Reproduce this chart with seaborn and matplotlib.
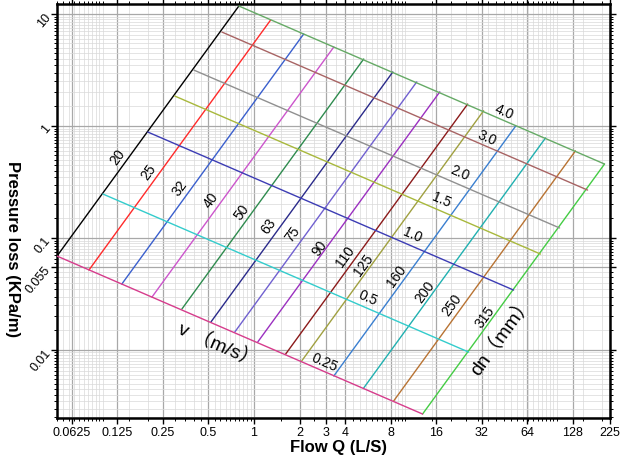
import numpy as np
import pandas as pd
import matplotlib
matplotlib.use("Agg")
import matplotlib.pyplot as plt
import matplotlib.ticker as mticker
import seaborn as sns

# pipe sizes dn (mm): flow / pressure loss at v=0.25 and v=4.0 m/s
dn = [20, 25, 32, 40, 50, 63, 75, 90, 110, 125, 160, 200, 250, 315]
dn_q_low = [0.050, 0.0813, 0.134, 0.212, 0.334, 0.520, 0.748, 1.06, 1.62, 2.07, 3.37, 5.31, 8.38, 13.0]
dn_j_low = [0.069, 0.0518, 0.0388, 0.0297, 0.0232, 0.0178, 0.0145, 0.0118, 0.0092, 0.0080, 0.00586, 0.00458, 0.00351, 0.00268]
dn_q_high = [0.795, 1.29, 2.13, 3.37, 5.31, 8.27, 11.9, 16.9, 25.8, 32.9, 53.6, 84.4, 133, 207]
dn_j_high = [11.8, 8.86, 6.63, 5.08, 3.97, 3.04, 2.48, 2.02, 1.57, 1.37, 1.00, 0.783, 0.600, 0.458]

# velocity lines v (m/s): ends on dn20 and on dn315
vel = [0.25, 0.5, 1.0, 1.5, 2.0, 3.0, 4.0]
vel_labels = ["0.25", "0.5", "1.0", "1.5", "2.0", "3.0", "4.0"]
vel_q_start = [0.050, 0.1006, 0.199, 0.300, 0.401, 0.614, 0.795]
vel_j_start = [0.069, 0.247, 0.884, 1.853, 3.16, 6.91, 11.8]
vel_q_end = [13.0, 26.2, 51.9, 78.2, 104.5, 160, 207]
vel_j_end = [0.00268, 0.00958, 0.0343, 0.0719, 0.123, 0.268, 0.458]

x_ticks = [0.0625, 0.125, 0.25, 0.5, 1, 2, 3, 4, 8, 16, 32, 64, 128, 225]
x_ticklabels = ["0.0625", "0.125", "0.25", "0.5", "1", "2", "3", "4", "8", "16", "32", "64", "128", "225"]
y_ticks = [0.01, 0.055, 0.1, 1, 10]
y_ticklabels = ["0.01", "0.055", "0.1", "1", "10"]

# label anchor points
dn_lab_q = [0.126, 0.202, 0.324, 0.520, 0.832, 1.25, 1.81, 2.72, 3.98, 5.31, 8.77, 13.4, 20.2, 33.4]
dn_lab_j = [0.540, 0.397, 0.285, 0.223, 0.174, 0.131, 0.109, 0.0831, 0.069, 0.0586, 0.0468, 0.0336, 0.0257, 0.0201]
vel_lab_q = [2.94, 5.65, 11.2, 17.4, 22.9, 34.4, 44.6]
vel_lab_j = [0.00781, 0.0297, 0.109, 0.223, 0.388, 0.797, 1.36]

dn_colors = ['#000000', '#ff2a2a', '#3a5fcd', '#cc55cc', '#2e8b4e', '#2a2a8a', '#7060d0',
             '#9b30c0', '#8b1a1a', '#a0a040', '#3a7fd0', '#20b0b0', '#b87333', '#44cc44']
vel_colors = ['#d63c8c', '#33cccc', '#3c3cb4', '#a8b83c', '#909090', '#a86464', '#66aa66']

rows = []
palette = {}
for i, d in enumerate(dn):
    name = f"dn{d}"
    rows.append((name, 0, dn_q_low[i], dn_j_low[i]))
    rows.append((name, 1, dn_q_high[i], dn_j_high[i]))
    palette[name] = dn_colors[i]
for i, v in enumerate(vel):
    name = f"v{v}"
    rows.append((name, 0, vel_q_start[i], vel_j_start[i]))
    rows.append((name, 1, vel_q_end[i], vel_j_end[i]))
    palette[name] = vel_colors[i]
df = pd.DataFrame(rows, columns=["line", "k", "Q", "J"])

sns.set_theme(style="white")
plt.rcParams['font.family'] = ['Liberation Sans', 'Noto Sans CJK SC', 'DejaVu Sans']
plt.rcParams.update({"text.color": "black", "axes.labelcolor": "black",
                     "xtick.color": "black", "ytick.color": "black"})

fig = plt.figure(figsize=(6.24, 4.6), dpi=100)
ax = fig.add_axes([57 / 624, 41 / 460, 553 / 624, 414 / 460])

sns.lineplot(data=df, x="Q", y="J", hue="line", units="line", palette=palette,
             estimator=None, sort=False, legend=False, lw=1.0, ax=ax, zorder=3)

ax.set_xscale("log")
ax.set_yscale("log")
ax.set_xlim(0.05, 225)
ax.set_ylim(0.00247, 12.3)

ax.xaxis.set_major_locator(mticker.FixedLocator(x_ticks))
ax.xaxis.set_major_formatter(mticker.FixedFormatter(x_ticklabels))
ax.yaxis.set_major_locator(mticker.FixedLocator(y_ticks))
ax.yaxis.set_major_formatter(mticker.FixedFormatter(y_ticklabels))
ax.xaxis.set_minor_locator(mticker.LogLocator(base=10, subs=np.arange(1, 10, 0.5), numticks=200))
ax.yaxis.set_minor_locator(mticker.LogLocator(base=10, subs=np.arange(1, 10, 0.5), numticks=200))
ax.xaxis.set_minor_formatter(mticker.NullFormatter())
ax.yaxis.set_minor_formatter(mticker.NullFormatter())

ax.tick_params(which="both", direction="out", top=True, right=True, left=True, bottom=True,
               labeltop=False, labelright=False, colors="black", labelcolor="black")
ax.tick_params(which="major", length=4, width=1.0, labelsize=9, pad=2)
ax.tick_params(which="minor", length=2, width=0.7)
for lab in ax.get_yticklabels():
    lab.set_rotation(50)
    lab.set_rotation_mode("anchor")
    lab.set_ha("right")
    lab.set_va("center")

ax.grid(which="major", color="#a8a8a8", lw=0.9, zorder=0)
ax.grid(which="minor", color="#d9d9d9", lw=0.5, zorder=0)
ax.set_axisbelow(True)
for s in ax.spines.values():
    s.set_color("black")
    s.set_linewidth(1.8)

ax.set_xlabel("Flow Q (L/S)", fontsize=12, fontweight="bold", color="black")
ax.set_ylabel("Pressure loss (KPa/m)", fontsize=12, fontweight="bold", rotation=270,
              va="center", color="black")
ax.xaxis.set_label_coords(0.509, -0.05)
ax.yaxis.set_label_coords(-0.081, 0.41)

for i, d in enumerate(dn):
    ax.text(dn_lab_q[i], dn_lab_j[i], str(d), fontsize=10, rotation=54, color="black",
            rotation_mode="anchor", ha="center", va="center", zorder=4)
for i, t in enumerate(vel_labels):
    ax.text(vel_lab_q[i], vel_lab_j[i], t, fontsize=10, rotation=-23.4, color="black",
            rotation_mode="anchor", ha="center", va="center", zorder=4)

ax.text(0.578, 0.0113, "v （m/s）", fontsize=14, rotation=-23.4, color="black",
        rotation_mode="anchor", ha="center", va="center", zorder=4)
ax.text(43.3, 0.0136, "dn（mm）", fontsize=14, rotation=54, color="black",
        rotation_mode="anchor", ha="center", va="center", zorder=4)

fig.savefig("out.png", dpi=100)
